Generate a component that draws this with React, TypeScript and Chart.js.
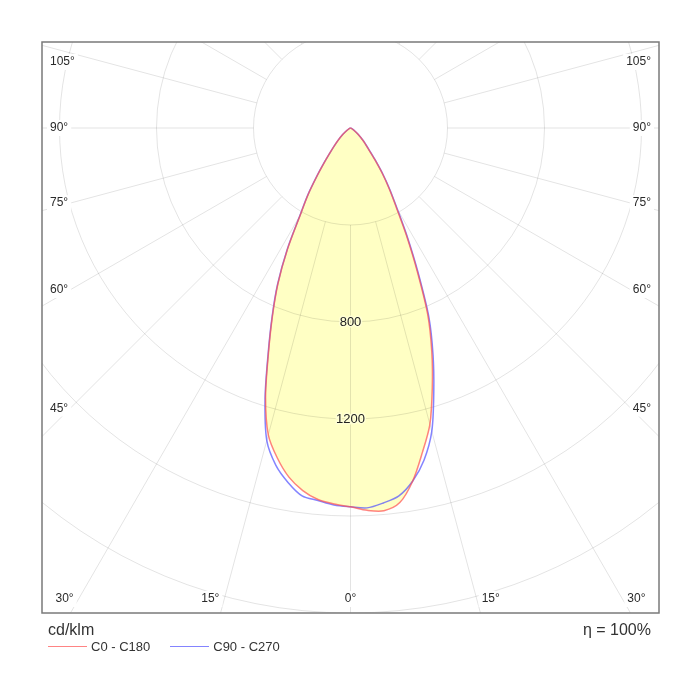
import { useEffect, useRef } from 'react';
import { Chart, registerables } from 'chart.js';

Chart.register(...registerables);

// gamma angles (deg from nadir) and intensities in cd/klm
const gammaDeg = [0, 2.5, 5, 7.5, 10, 12.5, 15, 17.5, 20, 22.5, 25, 27.5, 30, 32.5, 35, 37.5, 40, 42.5, 45, 50, 55, 60, 70, 80, 90];
const c0 = [1562, 1578, 1584, 1558, 1478, 1370, 1265, 1122, 980, 832, 650, 500, 378, 298, 228, 165, 120, 93, 74, 42, 20, 8, 2, 0, 0];
const c180 = [1562, 1552, 1538, 1508, 1462, 1394, 1310, 1165, 990, 842, 708, 562, 415, 325, 238, 172, 126, 96, 74, 42, 20, 8, 2, 0, 0];
const c90 = [1565, 1568, 1552, 1530, 1478, 1402, 1295, 1142, 995, 845, 662, 510, 386, 304, 234, 170, 124, 95, 76, 43, 20, 8, 2, 0, 0];
const c270 = [1562, 1556, 1542, 1530, 1484, 1424, 1334, 1172, 994, 846, 712, 566, 418, 328, 240, 174, 128, 97, 75, 42, 20, 8, 2, 0, 0];

const seriesNames = ['C0 - C180', 'C90 - C270'];
const seriesColors = ['rgba(255,80,80,0.7)', 'rgba(80,80,255,0.7)'];

const ringValues = [400, 800, 1200, 1600, 2000, 2400, 2800];
const ringLabels = [800, 1200];
const spokeAngles = Array.from({ length: 25 }, (_, i) => -180 + i * 15);
const angleLabels = [0, 15, 30, 45, 60, 75, 90, 105];

const unitLabel = 'cd/klm';
const efficiencyLabel = 'η = 100%';

const FONT = "'Liberation Sans', Arial, sans-serif";
const PX_PER_400 = 97;

function polar(v: number, deg: number) {
  const t = (deg * Math.PI) / 180;
  return { x: v * Math.sin(t), y: -v * Math.cos(t) };
}

function loop(left: number[], right: number[]) {
  const pts = [];
  for (let i = gammaDeg.length - 1; i >= 0; i--) pts.push(polar(left[i], -gammaDeg[i]));
  for (let i = 1; i < gammaDeg.length; i++) pts.push(polar(right[i], gammaDeg[i]));
  return pts;
}

const polarGrid = {
  id: 'polarGrid',
  beforeDatasetsDraw(chart: any) {
    const { ctx, chartArea: a, scales } = chart;
    const cx = scales.x.getPixelForValue(0);
    const cy = scales.y.getPixelForValue(0);
    const k = scales.x.getPixelForValue(1000) - cx;
    ctx.save();
    ctx.beginPath();
    ctx.rect(a.left, a.top, a.width, a.height);
    ctx.clip();
    ctx.strokeStyle = 'rgba(0,0,0,0.11)';
    ctx.lineWidth = 1;
    for (const r of ringValues) {
      ctx.beginPath();
      ctx.arc(cx, cy, (r * k) / 1000, 0, Math.PI * 2);
      ctx.stroke();
    }
    const r0 = (ringValues[0] * k) / 1000;
    const r1 = (4000 * k) / 1000;
    for (const deg of spokeAngles) {
      const t = (deg * Math.PI) / 180;
      const dx = Math.sin(t);
      const dy = Math.cos(t);
      ctx.beginPath();
      ctx.moveTo(cx + dx * r0, cy + dy * r0);
      ctx.lineTo(cx + dx * r1, cy + dy * r1);
      ctx.stroke();
    }
    ctx.restore();
  },
  afterDatasetsDraw(chart: any) {
    const { ctx, chartArea: a, scales } = chart;
    const cx = scales.x.getPixelForValue(0);
    const cy = scales.y.getPixelForValue(0);
    const k = scales.x.getPixelForValue(1000) - cx;
    ctx.save();
    // ring value labels on the nadir axis
    ctx.font = `13px ${FONT}`;
    ctx.textAlign = 'center';
    ctx.textBaseline = 'middle';
    for (const v of ringLabels) {
      const y = cy + (v * k) / 1000;
      ctx.lineWidth = 3;
      ctx.strokeStyle = 'rgba(255,255,215,0.9)';
      ctx.strokeText(String(v), cx, y);
      ctx.fillStyle = '#222';
      ctx.fillText(String(v), cx, y);
    }
    // angle labels
    ctx.font = `12px ${FONT}`;
    for (const deg of angleLabels) {
      const sides = deg === 0 ? [1] : [-1, 1];
      for (const side of sides) {
        const t = (deg * Math.PI) / 180;
        const s = Math.sin(t);
        const c = Math.cos(t);
        const tSide = s > 1e-6 ? (side > 0 ? a.right - cx : cx - a.left) / s : Infinity;
        const tBottom = c > 1e-6 ? (a.bottom - cy) / c : Infinity;
        const text = `${deg}°`;
        const w = ctx.measureText(text).width;
        let x: number;
        let y: number;
        let align: 'left' | 'right' | 'center';
        if (tBottom < tSide) {
          y = a.bottom - 14;
          x = cx + side * s * ((y - cy) / c) + (deg === 0 ? 0 : side * 14);
          align = 'center';
        } else {
          const xe = side > 0 ? a.right - 28 : a.left + 28;
          y = cy + c * (Math.abs(xe - cx) / s);
          y = Math.max(y, a.top + 20);
          x = side > 0 ? a.right - 8 : a.left + 8;
          align = side > 0 ? 'right' : 'left';
        }
        const bx = align === 'center' ? x - w / 2 : align === 'left' ? x : x - w;
        ctx.fillStyle = '#fff';
        ctx.fillRect(bx - 3, y - 8, w + 6, 16);
        ctx.fillStyle = '#2a2a2a';
        ctx.textAlign = align;
        ctx.fillText(text, x, y);
      }
    }
    ctx.restore();
  },
  afterDraw(chart: any) {
    const { ctx, chartArea: a } = chart;
    ctx.save();
    ctx.strokeStyle = '#7a7a7a';
    ctx.lineWidth = 1.5;
    ctx.strokeRect(a.left, a.top, a.width, a.height);
    ctx.restore();
  },
};

function PolarDiagram() {
  const canvasRef = useRef<HTMLCanvasElement>(null);
  const chartRef = useRef<Chart | null>(null);

  useEffect(() => {
    if (!canvasRef.current) return;
    if (chartRef.current) chartRef.current.destroy();

    const pad = { left: 42, right: 41, top: 42, bottom: 87 };
    const cxPx = (700 - pad.left - pad.right) / 2;
    const unit = 400 / PX_PER_400;
    const xMax = cxPx * unit;
    const yMax = (128 - pad.top) * unit;
    const yMin = -(700 - pad.bottom - 128) * unit;

    chartRef.current = new Chart(canvasRef.current, {
      type: 'scatter',
      data: {
        datasets: [
          {
            label: seriesNames[0],
            data: loop(c180, c0),
            showLine: true,
            borderColor: seriesColors[0],
            borderWidth: 1.5,
            backgroundColor: '#ffffc4',
            fill: 'shape',
            pointRadius: 0,
            tension: 0.3,
          },
          {
            label: seriesNames[1],
            data: loop(c270, c90),
            showLine: true,
            borderColor: seriesColors[1],
            borderWidth: 1.5,
            fill: false,
            pointRadius: 0,
            tension: 0.3,
          },
        ],
      },
      options: {
        responsive: false,
        animation: false,
        layout: { padding: pad },
        plugins: {
          legend: { display: false },
          tooltip: { enabled: false },
          filler: { drawTime: 'beforeDatasetsDraw' },
        },
        scales: {
          x: { type: 'linear', display: false, min: -xMax, max: xMax },
          y: { type: 'linear', display: false, min: yMin, max: yMax },
        },
      },
      plugins: [polarGrid],
    } as any);

    return () => {
      if (chartRef.current) {
        chartRef.current.destroy();
        chartRef.current = null;
      }
    };
  }, []);

  return <canvas ref={canvasRef} width={700} height={700} style={{ width: 700, height: 700 }} />;
}

export default function App() {
  return (
    <div
      style={{
        position: 'fixed',
        left: 0,
        top: 0,
        width: 700,
        height: 700,
        background: '#fff',
        fontFamily: FONT,
        color: '#333',
      }}
    >
      <PolarDiagram />
      <div style={{ position: 'absolute', left: 48, top: 621, fontSize: 16 }}>{unitLabel}</div>
      <div style={{ position: 'absolute', right: 49, top: 621, fontSize: 16 }}>{efficiencyLabel}</div>
      <div style={{ position: 'absolute', left: 48, top: 639, display: 'flex', fontSize: 13, alignItems: 'center' }}>
        {seriesNames.map((name, i) => (
          <div key={name} style={{ display: 'flex', alignItems: 'center', marginRight: 20 }}>
            <span style={{ display: 'inline-block', width: 39, borderTop: `1.5px solid ${seriesColors[i]}`, marginRight: 4 }} />
            <span>{name}</span>
          </div>
        ))}
      </div>
    </div>
  );
}
